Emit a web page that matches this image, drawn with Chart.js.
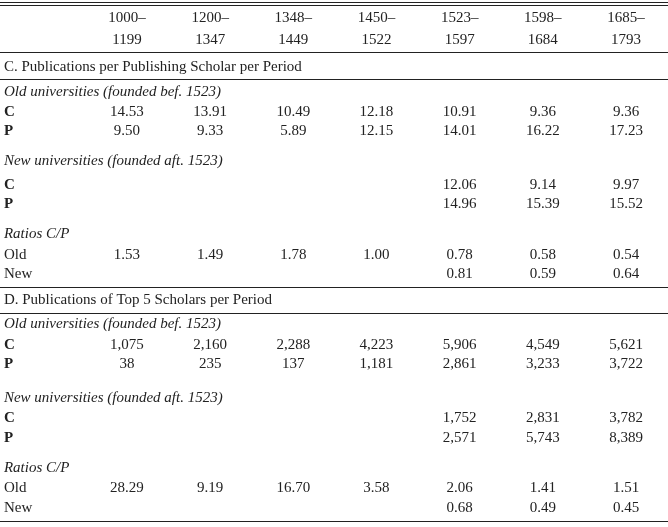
<!DOCTYPE html><html><head><meta charset="utf-8">
<script src="https://cdn.jsdelivr.net/npm/chart.js@4"></script>
<style>html,body{margin:0;background:#fff}#w{width:668px;height:527px}</style></head><body>
<div id="w"><canvas id="c"></canvas></div>
<script>
const periodsTop=['1000–','1200–','1348–','1450–','1523–','1598–','1685–'];
const periodsBot=['1199','1347','1449','1522','1597','1684','1793'];
const C_oldC=['14.53','13.91','10.49','12.18','10.91','9.36','9.36'];
const C_oldP=['9.50','9.33','5.89','12.15','14.01','16.22','17.23'];
const C_newC=['','','','','12.06','9.14','9.97'];
const C_newP=['','','','','14.96','15.39','15.52'];
const C_ratOld=['1.53','1.49','1.78','1.00','0.78','0.58','0.54'];
const C_ratNew=['','','','','0.81','0.59','0.64'];
const D_oldC=['1,075','2,160','2,288','4,223','5,906','4,549','5,621'];
const D_oldP=['38','235','137','1,181','2,861','3,233','3,722'];
const D_newC=['','','','','1,752','2,831','3,782'];
const D_newP=['','','','','2,571','5,743','8,389'];
const D_ratOld=['28.29','9.19','16.70','3.58','2.06','1.41','1.51'];
const D_ratNew=['','','','','0.68','0.49','0.45'];
// rows: [rowPos, label, style, values]
const rows=[
 [18,'', 'n', periodsTop],[40,'','n',periodsBot],
 [67,'C. Publications per Publishing Scholar per Period','n',null],
 [92,'Old universities (founded bef. 1523)','i',null],
 [112,'C','b',C_oldC],[131,'P','b',C_oldP],
 [161,'New universities (founded aft. 1523)','i',null],
 [185,'C','b',C_newC],[204,'P','b',C_newP],
 [234,'Ratios C/P','i',null],
 [255,'Old','n',C_ratOld],[274,'New','n',C_ratNew],
 [300,'D. Publications of Top 5 Scholars per Period','n',null],
 [324,'Old universities (founded bef. 1523)','i',null],
 [345,'C','b',D_oldC],[364,'P','b',D_oldP],
 [398,'New universities (founded aft. 1523)','i',null],
 [418,'C','b',D_newC],[438,'P','b',D_newP],
 [468,'Ratios C/P','i',null],
 [488,'Old','n',D_ratOld],[508,'New','n',D_ratNew]
];
const rules=[[2,1],[5,1],[52,1],[79,1],[287,1],[313,1],[521,1]];
const plugin={id:'tbl',afterDraw(ch){
 const x=ch.scales.x,y=ch.scales.y,ctx=ch.ctx;ctx.save();
 ctx.fillStyle='#222';ctx.textBaseline='middle';
 rows.forEach(([r,l,s,v])=>{
  const py=y.getPixelForValue(r);
  ctx.font=(s==='i'?'italic ':'')+(s==='b'?'bold ':'')+'15px "Liberation Serif"';
  ctx.textAlign='left';ctx.fillText(l,x.getPixelForValue(-0.48),py);
  if(v){ctx.font='15px "Liberation Serif"';ctx.textAlign='center';
   v.forEach((t,i)=>ctx.fillText(t,x.getPixelForValue(i+1),py));}
 });
 ctx.strokeStyle='#222';
 rules.forEach(([r,w])=>{const py=Math.round(y.getPixelForValue(r))+0.5;ctx.lineWidth=w;
  ctx.beginPath();ctx.moveTo(x.left,py);ctx.lineTo(x.right,py);ctx.stroke();});
 ctx.restore();}};
new Chart(document.getElementById('c'),{type:'scatter',data:{datasets:[{data:[]}]},
 options:{responsive:true,maintainAspectRatio:false,animation:false,
  layout:{padding:0},plugins:{legend:{display:false},tooltip:{enabled:false}},
  scales:{x:{type:'linear',min:-0.527,max:7.505,display:false},
          y:{type:'linear',min:0,max:527,reverse:true,display:false}}},
 plugins:[plugin]});
</script></body></html>
